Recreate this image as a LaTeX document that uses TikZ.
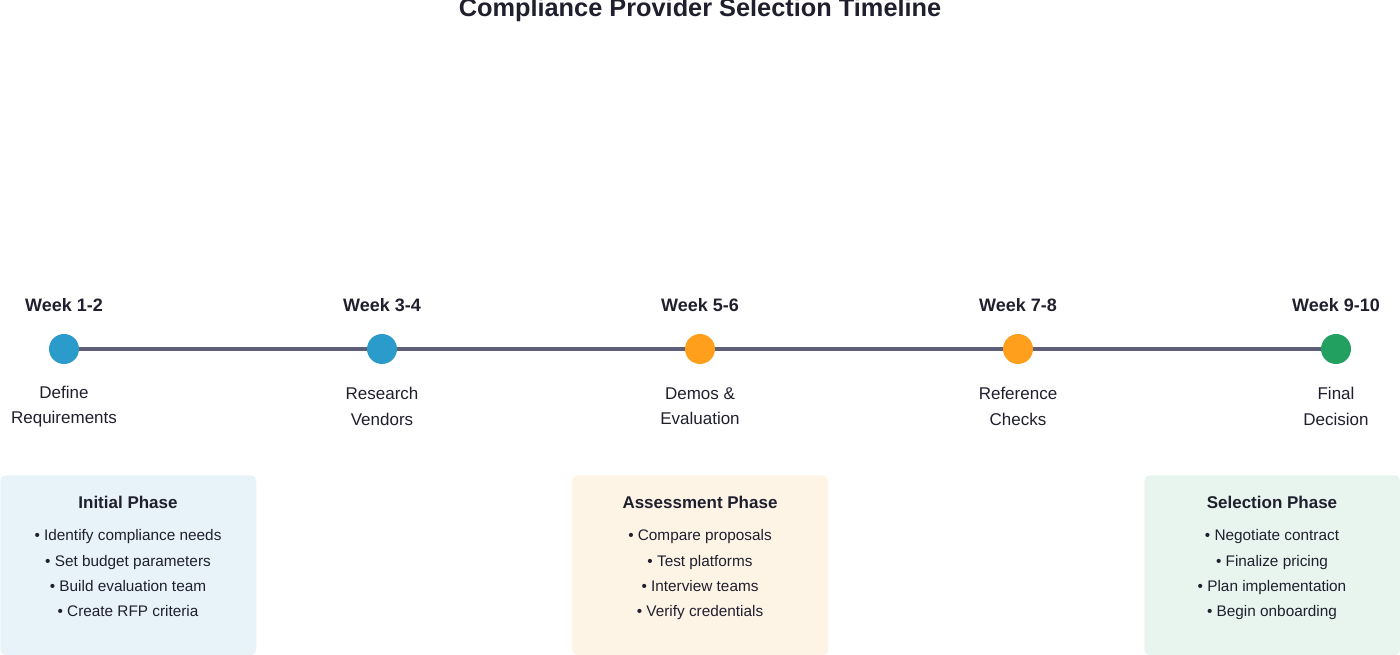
\documentclass[tikz,border=0pt]{standalone}
\usepackage{fontspec}
\setmainfont{Liberation Sans}
\definecolor{lineC}{HTML}{5F5F7A}
\definecolor{blueC}{HTML}{2A9BCB}
\definecolor{orangeC}{HTML}{FF9F1C}
\definecolor{greenC}{HTML}{22A060}
\definecolor{blueBox}{HTML}{E8F3F9}
\definecolor{orangeBox}{HTML}{FEF4E6}
\definecolor{greenBox}{HTML}{E8F5EE}
\definecolor{textC}{HTML}{1F1F2E}
\begin{document}
\begin{tikzpicture}[x=0.75pt,y=-0.75pt,
  week/.style={font=\fontsize{13.5}{16}\selectfont\bfseries,text=textC},
  dot/.style={circle,minimum size=22.5pt,inner sep=0pt},
  milestone/.style={font=\fontsize{12.75}{19}\selectfont,text=textC,align=center},
  phase/.style={rounded corners=4pt,minimum width=192pt,minimum height=135pt,anchor=north west},
  head/.style={font=\fontsize{12.75}{16}\selectfont\bfseries,text=textC},
  items/.style={font=\fontsize{11.5}{19}\selectfont,text=textC,align=center,anchor=north}
  ]
  \useasboundingbox (0,0) rectangle (1400,655);
  \node[font=\fontsize{19}{22}\selectfont\bfseries,text=textC] (title) at (700,10) {Compliance Provider Selection Timeline};
  % timeline
  \node[dot,fill=blueC] (d1) at (64,349) {};
  \node[dot,fill=blueC] (d2) at (382,349) {};
  \node[dot,fill=orangeC] (d3) at (700,349) {};
  \node[dot,fill=orangeC] (d4) at (1018,349) {};
  \node[dot,fill=greenC] (d5) at (1336,349) {};
  \foreach \a/\b in {d1/d2,d2/d3,d3/d4,d4/d5}
    \draw[lineC,line width=3pt] (\a) -- (\b);
  \foreach \n/\w/\s in {d1/Week 1-2/Define\\Requirements, d2/Week 3-4/Research\\Vendors,
      d3/Week 5-6/Demos \&\\Evaluation, d4/Week 7-8/Reference\\Checks, d5/Week 9-10/Final\\Decision}{
    \node[week] (w-\n) at ([yshift=33pt]\n.center) {\w};
    \node[milestone] (s-\n) at ([yshift=-43pt]\n.center) {\s};
  }
  % phases
  \node[phase,fill=blueBox] (p1) at (0,475) {};
  \node[phase,fill=orangeBox] (p2) at (572,475) {};
  \node[phase,fill=greenBox] (p3) at (1144,475) {};
  \node[head] (h1) at (128,502) {Initial Phase};
  \node[head] (h2) at (700,502) {Assessment Phase};
  \node[head] (h3) at (1272,502) {Selection Phase};
  \node[items] (i1) at (128,525) {• Identify compliance needs\\• Set budget parameters\\• Build evaluation team\\• Create RFP criteria};
  \node[items] (i2) at (700,525) {• Compare proposals\\• Test platforms\\• Interview teams\\• Verify credentials};
  \node[items] (i3) at (1272,525) {• Negotiate contract\\• Finalize pricing\\• Plan implementation\\• Begin onboarding};
\end{tikzpicture}
\end{document}
